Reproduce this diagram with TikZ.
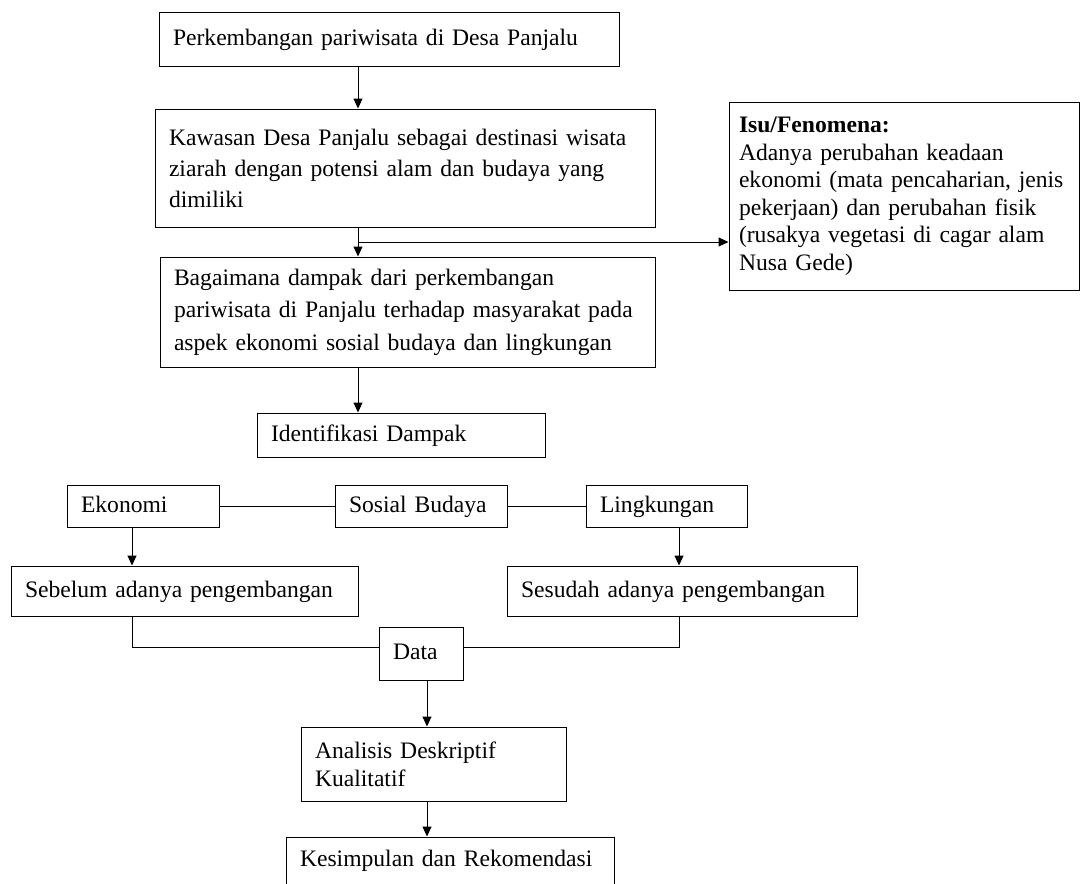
\documentclass[tikz,border=0pt]{standalone}
\usepackage{fontspec}
\setmainfont{Liberation Serif}
\usetikzlibrary{arrows.meta}
\hyphenpenalty=10000

\begin{document}
\begin{tikzpicture}[x=1pt, y=-1pt,
  box/.style={draw, line width=1pt, align=left, inner xsep=14pt, inner ysep=0pt,
              font=\fontsize{23.6}{#1}\selectfont},
  box/.default=30,
  one/.style={text height=17pt, text depth=5pt},
  ar/.style={-{Triangle[length=10pt,width=9pt]}, line width=1pt},
  ln/.style={line width=1pt}
]
\useasboundingbox (0,0) rectangle (1081,883);

\node[box, one, text width=432pt, minimum height=54pt] (p1) at (389,40)
    {Perkembangan pariwisata di Desa Panjalu};
\node[box=31, text width=472pt, minimum height=118pt] (p2) at (405,168)
    {Kawasan Desa Panjalu sebagai destinasi wisata\\
     ziarah dengan potensi alam dan budaya yang\\dimiliki};
\node[box=32.5, text width=467pt, minimum height=110pt] (p3) at (407.5,312)
    {Bagaimana dampak dari perkembangan\\
     pariwisata di Panjalu terhadap masyarakat pada\\
     aspek ekonomi sosial budaya dan lingkungan};
\node[box=27.5, inner xsep=10pt, text width=330pt, minimum height=188pt] (isu) at (904,196)
    {\textbf{Isu/Fenomena:}\\Adanya perubahan keadaan\\
     ekonomi (mata pencaharian, jenis\\pekerjaan) dan perubahan fisik\\
     (rusakya vegetasi di cagar alam\\Nusa Gede)};
\node[box, one, text width=260pt, minimum height=44pt] (idf) at (401,435) {Identifikasi Dampak};

\node[box, one, text width=124pt, minimum height=42pt] (eko) at (143,506)   {Ekonomi};
\node[box, one, text width=144pt, minimum height=42pt] (sos) at (421,506)   {Sosial Budaya};
\node[box, one, text width=133pt, minimum height=42pt] (lin) at (666.5,506) {Lingkungan};
\node[box, one, text width=319pt, minimum height=50pt] (seb) at (184.5,591) {Sebelum adanya pengembangan};
\node[box, one, text width=322pt, minimum height=50pt] (ses) at (682,591)   {Sesudah adanya pengembangan};
\node[box, one, text width=56pt, minimum height=53pt]  (dat) at (421,653.5) {Data};
\node[box=28, text width=237pt, minimum height=74pt] (ana) at (433.5,764)
    {Analisis Deskriptif\\Kualitatif};
\node[box, one, text width=300pt, minimum height=47pt] (kes) at (450,860.5) {Kesimpulan dan Rekomendasi};

% verticals
\coordinate (sp) at (358,0);
\coordinate (br) at (358,242);
\coordinate (lx) at (132,0);
\coordinate (rx) at (679,0);
\coordinate (mx) at (427,0);

\draw[ar] (p1.south -| sp) -- (p2.north -| sp);
\draw[ar] (p2.south -| sp) -- (p3.north -| sp);
\draw[ar] (br) -- (br -| isu.west);
\draw[ar] (p3.south -| sp) -- (idf.north -| sp);

\draw[ln] (eko.east) -- (sos.west) (sos.east) -- (lin.west);
\draw[ar] (eko.south -| lx) -- (seb.north -| lx);
\draw[ar] (lin.south -| rx) -- (ses.north -| rx);

\draw[ln] (seb.south -| lx) |- ([yshift=6pt]dat.west);
\draw[ln] (ses.south -| rx) |- ([yshift=6pt]dat.east);
\draw[ar] (dat.south -| mx) -- (ana.north -| mx);
\draw[ar] (ana.south -| mx) -- (kes.north -| mx);

\end{tikzpicture}
\end{document}
